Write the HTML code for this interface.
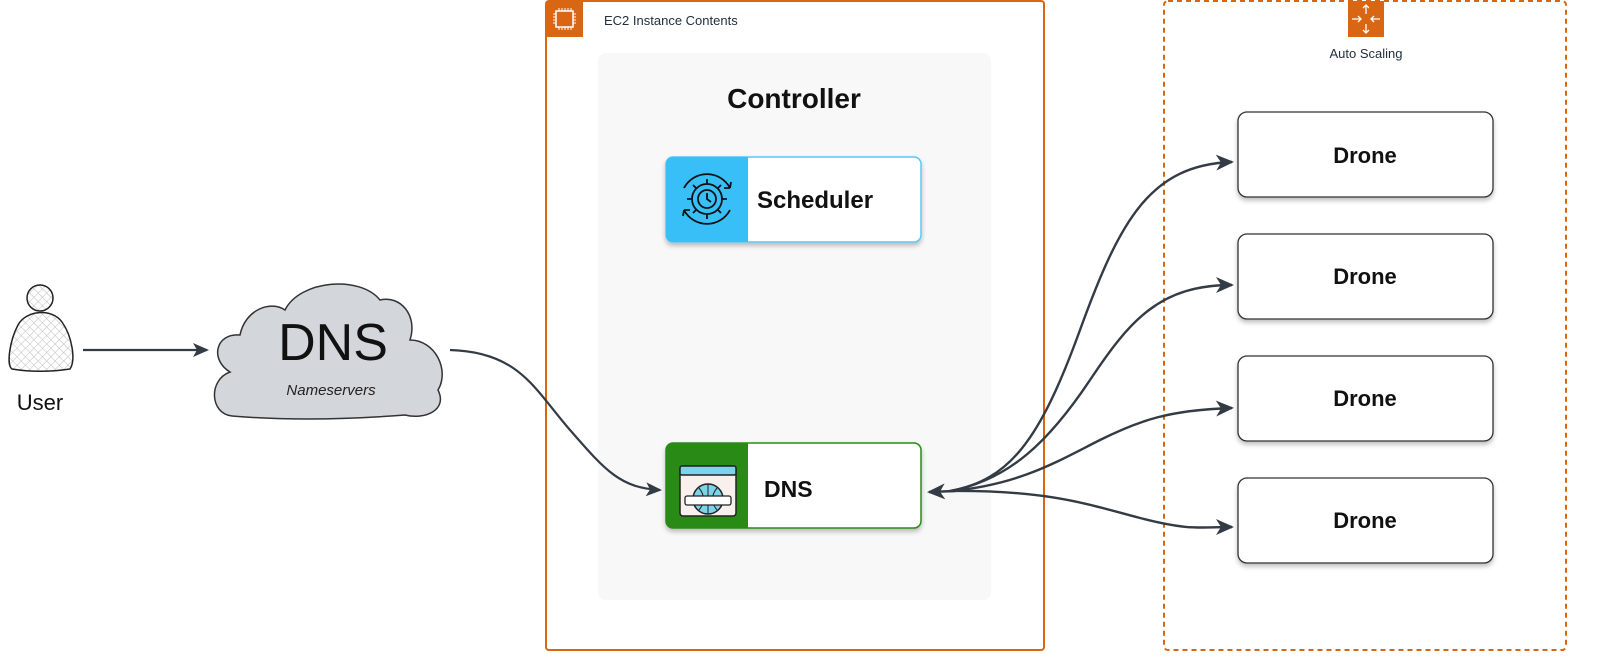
<!DOCTYPE html>
<html><head><meta charset="utf-8"><style>
html,body{margin:0;padding:0;background:#fff;}
svg{display:block}
text{font-family:"Liberation Sans",sans-serif}
</style></head><body>
<svg width="1600" height="665" viewBox="0 0 1600 665" xmlns="http://www.w3.org/2000/svg">
<defs>
<pattern id="hatch" width="6" height="6" patternUnits="userSpaceOnUse" patternTransform="rotate(45)">
<rect width="6" height="6" fill="#fff"/>
<path d="M0 0V6M0 0H6" stroke="#bbb" stroke-width="1"/>
</pattern>
<marker id="ah" markerWidth="16" markerHeight="14" refX="14" refY="7" orient="auto" markerUnits="userSpaceOnUse">
<path d="M0 0L16 7L0 14L4 7Z" fill="#333b45"/>
</marker>
<marker id="ah2" markerWidth="18" markerHeight="16" refX="16" refY="8" orient="auto" markerUnits="userSpaceOnUse">
<path d="M0 0L18 8L0 16L5 8Z" fill="#333b45"/>
</marker>
<filter id="sh" x="-10%" y="-10%" width="120%" height="130%"><feDropShadow dx="0" dy="3" stdDeviation="2.5" flood-color="#000" flood-opacity="0.25"/></filter>
</defs>

<!-- EC2 container -->
<rect x="546" y="1" width="498" height="649" rx="3" fill="#fff" stroke="#d86613" stroke-width="2"/>
<rect x="546" y="1" width="37" height="36" fill="#d86613"/>
<rect x="556" y="11" width="17" height="16" fill="none" stroke="#fff" stroke-width="1.5"/>
<path d="M559 8v3M562 8v3M565 8v3M568 8v3M571 8v3M559 27v3M562 27v3M565 27v3M568 27v3M571 27v3M553 14h3M553 17h3M553 20h3M553 23h3M573 14h3M573 17h3M573 20h3M573 23h3" stroke="#fff" stroke-width="1"/>
<text x="604" y="25" font-size="13" fill="#232f3e">EC2 Instance Contents</text>

<!-- controller panel -->
<rect x="598" y="53" width="393" height="547" rx="8" fill="#f8f8f8"/>
<text x="794" y="108" font-size="28" font-weight="bold" text-anchor="middle" fill="#111">Controller</text>

<!-- scheduler -->
<g filter="url(#sh)">
<rect x="666" y="157" width="255" height="85" rx="7" fill="#fff" stroke="#5ac8fa" stroke-width="1.5"/>
<path d="M673 157H748V242H673A7 7 0 0 1 666 235V164A7 7 0 0 1 673 157Z" fill="#38bff8"/>
</g>
<g fill="none" stroke="#111" stroke-width="1.8">
<circle cx="707" cy="199" r="15"/>
<circle cx="707" cy="199" r="9"/>
<path d="M707 193v6l4 3"/>
<path d="M707 184v-5M707 214v5M692 199h-5M722 199h5M696 188l-3-3M718 210l3 3M718 188l3-3M696 210l-3 3"/>
<path d="M684 188A26 26 0 0 1 730 188M730 210A26 26 0 0 1 684 210"/>
<path d="M730 188l1-6M730 188l-6 0M684 210l-1 6M684 210l6 0"/>
</g>
<text x="757" y="208" font-size="24" font-weight="bold" fill="#111">Scheduler</text>

<!-- DNS node -->
<g filter="url(#sh)">
<rect x="666" y="443" width="255" height="85" rx="7" fill="#fff" stroke="#2a8a17" stroke-width="1.5"/>
<path d="M673 443H748V528H673A7 7 0 0 1 666 521V450A7 7 0 0 1 673 443Z" fill="#2a8a17"/>
</g>
<rect x="680" y="466" width="56" height="50" rx="3" fill="#f7f0ec" stroke="#222" stroke-width="1.5"/>
<rect x="680" y="466" width="56" height="9" rx="2" fill="#7dd3e8" stroke="#222" stroke-width="1.5"/>
<circle cx="708" cy="499" r="15" fill="#7dd3e8" stroke="#222" stroke-width="1.5"/>
<path d="M693 499h30M708 484v30M699 488q9 11 0 22M717 488q-9 11 0 22" stroke="#222" fill="none" stroke-width="1"/>
<rect x="685" y="496" width="46" height="9" rx="2" fill="#fff" stroke="#222" stroke-width="1.3"/>
<text x="764" y="497" font-size="23" font-weight="bold" fill="#111">DNS</text>

<!-- Auto Scaling -->
<rect x="1164" y="1" width="402" height="649" rx="4" fill="none" stroke="#d86613" stroke-width="2" stroke-dasharray="5,4"/>
<rect x="1348" y="1" width="36" height="36" fill="#d86613"/>
<g stroke="#fff" stroke-width="1.3" fill="none">
<path d="M1366 5v9M1363 8l3-3 3 3M1366 33v-9M1363 30l3 3 3-3M1352 19h9M1358 16l3 3-3 3M1380 19h-9M1374 16l-3 3 3 3"/>
</g>
<text x="1366" y="58" font-size="13" text-anchor="middle" fill="#232f3e">Auto Scaling</text>

<g filter="url(#sh)" fill="#fff" stroke="#333" stroke-width="1.3">
<rect x="1238" y="112" width="255" height="85" rx="9"/>
<rect x="1238" y="234" width="255" height="85" rx="9"/>
<rect x="1238" y="356" width="255" height="85" rx="9"/>
<rect x="1238" y="478" width="255" height="85" rx="9"/>
</g>
<g font-size="22" font-weight="bold" text-anchor="middle" fill="#111">
<text x="1365" y="163">Drone</text>
<text x="1365" y="284">Drone</text>
<text x="1365" y="406">Drone</text>
<text x="1365" y="528">Drone</text>
</g>

<!-- User -->
<circle cx="40" cy="298" r="13" fill="url(#hatch)" stroke="#222" stroke-width="1.5"/>
<path d="M12 369C6 365 10 340 18 325C26 310 52 308 62 322C72 336 76 360 70 369C50 372 30 372 12 369Z" fill="url(#hatch)" stroke="#222" stroke-width="1.5"/>
<text x="40" y="410" font-size="22" text-anchor="middle" fill="#111" font-family="DejaVu Sans">User</text>

<!-- arrow user->cloud -->
<line x1="83" y1="350" x2="207" y2="350" stroke="#333b45" stroke-width="2.2" marker-end="url(#ah)"/>

<!-- cloud -->
<path d="M232 416C210 414 208 380 230 372C210 360 215 333 240 335C245 310 270 300 285 310C300 280 360 275 380 300C400 295 418 315 410 340C435 340 450 370 438 390C448 410 425 420 405 415C340 420 280 420 232 416Z" fill="#d3d6db" stroke="#333" stroke-width="1.5"/>
<text x="333" y="360" font-size="52" text-anchor="middle" fill="#111" font-family="DejaVu Sans">DNS</text>
<text x="331" y="395" font-size="15" text-anchor="middle" fill="#222" font-style="italic" font-family="DejaVu Sans">Nameservers</text>

<!-- cloud -> DNS node -->
<path d="M450 350C520 352 535 390 570 430S620 488 660 490" fill="none" stroke="#333b45" stroke-width="2.2" marker-end="url(#ah)"/>

<!-- DNS node <-> drones -->
<g fill="none" stroke="#333b45" stroke-width="2.4">
<path d="M950 491C1010 480 1040 440 1080 330S1150 165 1232 162" marker-end="url(#ah2)"/>
<path d="M950 491C1010 480 1050 440 1090 380S1160 285 1232 285" marker-end="url(#ah2)"/>
<path d="M950 491C1020 485 1060 460 1100 440S1170 410 1232 408" marker-end="url(#ah2)"/>
<path d="M950 491C1050 490 1090 505 1140 518S1200 527 1232 527" marker-end="url(#ah2)"/>
<path d="M955 491L929 492" marker-end="url(#ah2)"/>
</g>
</svg>
</body></html>
